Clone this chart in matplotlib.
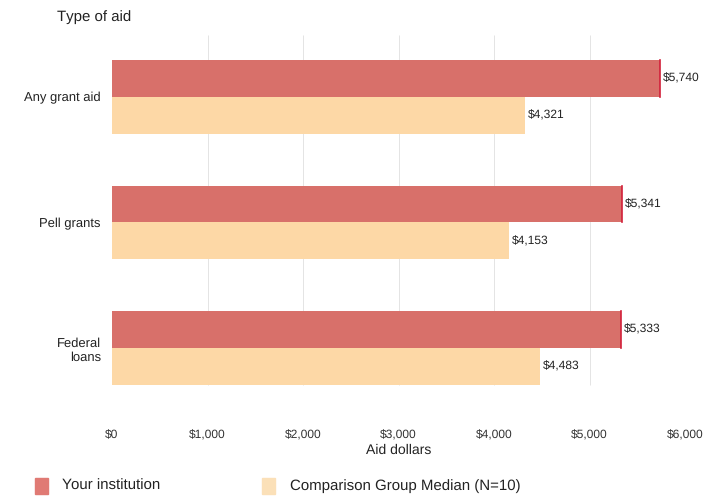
import matplotlib.pyplot as plt
import matplotlib.patches as mpatches
import numpy as np

plt.rcParams["font.family"] = ["Liberation Sans", "DejaVu Sans"]
plt.rcParams["text.hinting_factor"] = 1
plt.rcParams["text.hinting"] = "no_hinting"

categories = ["Any grant aid", "Pell grants", "Federal\nloans"]
your_institution = [5740, 5341, 5333]
comparison_median = [4321, 4153, 4483]
xticks = [0, 1000, 2000, 3000, 4000, 5000, 6000]

red = "#d8706a"
red_edge = "#d2203a"
peach = "#fdd8a6"

fig = plt.figure(figsize=(7.23, 4.98), dpi=100)
ax = fig.add_axes([112 / 723, 1 - 410 / 498, (685 - 112) / 723, (410 - 35) / 498])

y = np.arange(len(categories))
h = 0.294
ax.barh(y - h / 2, your_institution, height=h, color=red, zorder=2)
ax.barh(y + h / 2, comparison_median, height=h, color=peach, zorder=2)

# thin darker edge at the end of each institution bar
for yi, v in zip(y, your_institution):
    ax.plot([v, v], [yi - h, yi], color=red_edge, lw=1.2, zorder=3)

for yi, v in zip(y, your_institution):
    ax.text(v + 30, yi - h / 2, f"${v:,}", va="center", ha="left", fontsize=8.5, color="#222222")
for yi, v in zip(y, comparison_median):
    ax.text(v + 30, yi + h / 2, f"${v:,}", va="center", ha="left", fontsize=8.5, color="#222222")

# faint gridlines, stopping at the last bar
ax.vlines(xticks[1:], -0.49, y[-1] + h, color="#e4e4e4", lw=0.7, zorder=0)

ax.set_xlim(0, 6000)
ax.set_ylim(2.49, -0.49)
ax.set_xticks(xticks)
ax.set_xticklabels([f"${t:,}" for t in xticks], fontsize=8.5, color="#333333")
ax.set_yticks(y)
ax.set_yticklabels(categories, fontsize=9, color="#222222", ha="right")
ax.tick_params(length=0, axis="x", pad=14)
ax.tick_params(length=0, axis="y", pad=8)
for s in ax.spines.values():
    s.set_visible(False)

ax.set_xlabel("Aid dollars", fontsize=10, labelpad=2, color="#222222")
fig.text(57 / 723, 1 - 17 / 498, "Type of aid", fontsize=10.5, va="center", ha="left", color="#222222")

# legend
fig.patches.append(mpatches.Rectangle((35 / 723, 1 - 494 / 498), 13 / 723, 16 / 498,
                                      transform=fig.transFigure, color="#e07a74"))
fig.text(62 / 723, 1 - 486 / 498, "Your institution", fontsize=10.5, va="center", color="#222222")
fig.patches.append(mpatches.Rectangle((262 / 723, 1 - 494 / 498), 13 / 723, 16 / 498,
                                      transform=fig.transFigure, color="#fbe0b8"))
fig.text(290 / 723, 1 - 486 / 498, "Comparison Group Median (N=10)", fontsize=10.5, va="center", color="#222222")

fig.savefig("out.png", dpi=100)
